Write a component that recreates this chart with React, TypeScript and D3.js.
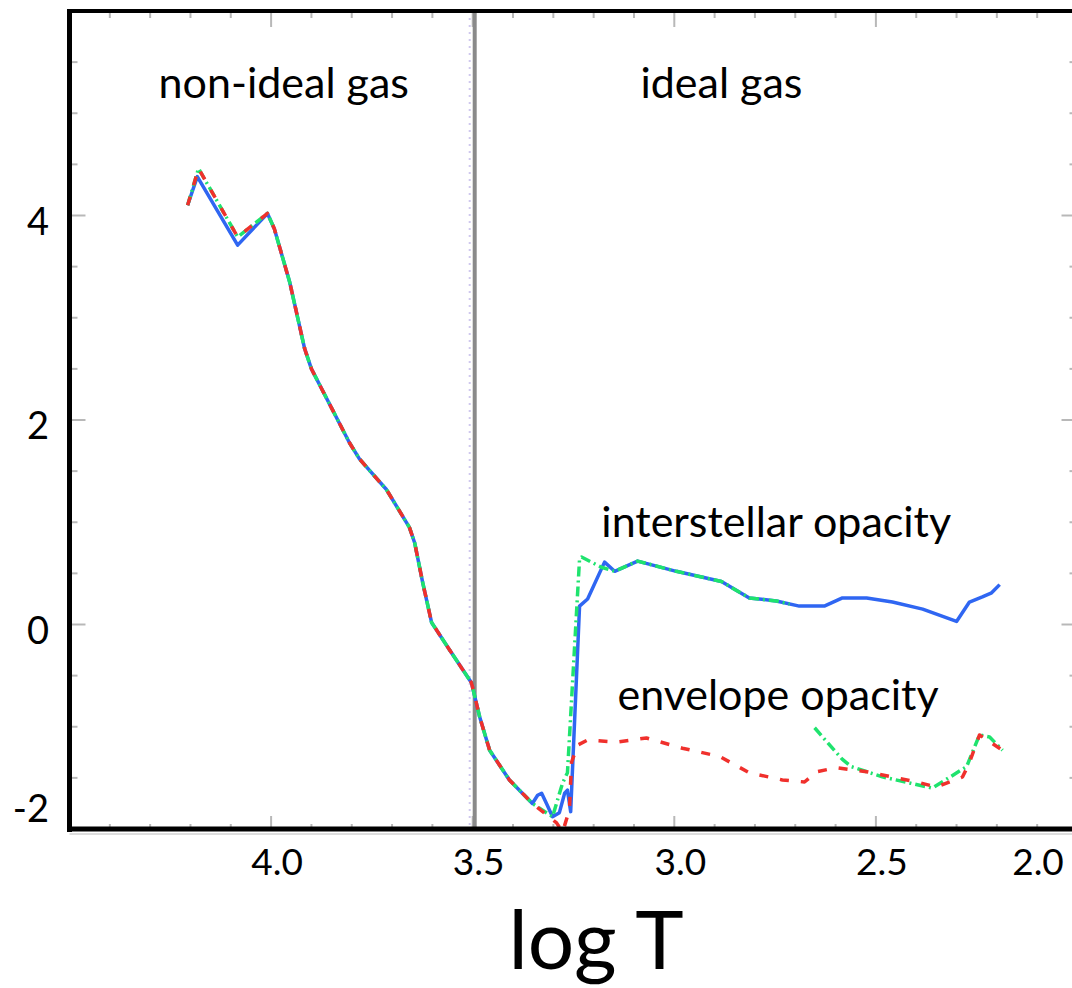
import React from 'react';
import * as d3 from 'd3';

const W = 1072;
const H = 988;

// log T / log kappa
// part shared by all three curves
const commonT = [4.009, 3.992, 3.954, 3.917, 3.9, 3.806, 3.781, 3.714, 3.657, 3.644, 3.624, 3.602, 3.558, 3.503, 3.483, 3.458, 3.409, 3.352];
const commonK = [4.02, 3.87, 3.35, 2.7, 2.5, 1.78, 1.62, 1.32, 0.95, 0.8, 0.41, 0.02, -0.245, -0.57, -0.9, -1.23, -1.52, -1.75];

// interstellar opacity (blue, solid)
const blueHeadT = [4.207, 4.183, 4.083];
const blueHeadK = [4.1, 4.38, 3.71];
const blueTailT = [3.339, 3.329, 3.317, 3.302, 3.285, 3.272, 3.265, 3.257, 3.235, 3.215, 3.173, 3.148, 3.091, 2.995, 2.883, 2.814, 2.747, 2.69, 2.628, 2.583, 2.523, 2.459, 2.384, 2.3, 2.268, 2.236, 2.213, 2.193];
const blueTailK = [-1.67, -1.65, -1.75, -1.88, -1.84, -1.65, -1.62, -1.83, 0.18, 0.25, 0.61, 0.52, 0.62, 0.52, 0.42, 0.26, 0.23, 0.18, 0.18, 0.26, 0.26, 0.22, 0.15, 0.03, 0.22, 0.27, 0.31, 0.39];

// envelope opacity (red, dashed) and the mixed curve (green, dash-dot)
const headT = [4.207, 4.18, 4.083];
const headK = [4.1, 4.46, 3.79];
const redTailT = [3.292, 3.277, 3.26, 3.255, 3.24, 3.215, 3.143, 3.069, 2.98, 2.888, 2.814, 2.732, 2.677, 2.647, 2.598, 2.523, 2.399, 2.35, 2.285, 2.268, 2.243, 2.186];
const redTailK = [-1.94, -2.03, -1.81, -1.35, -1.18, -1.13, -1.15, -1.11, -1.21, -1.29, -1.45, -1.52, -1.54, -1.44, -1.4, -1.44, -1.54, -1.59, -1.49, -1.35, -1.08, -1.23];
const greenTailT = [3.302, 3.277, 3.265, 3.235, 3.23, 3.181, 3.148, 3.091, 2.995, 2.883, 2.814, 2.747, 2.714, NaN, 2.652, 2.583, 2.561, 2.484, 2.36, 2.275, 2.243, 2.218, 2.186];
const greenTailK = [-1.88, -1.55, -1.45, 0.64, 0.66, 0.56, 0.52, 0.62, 0.52, 0.42, 0.26, 0.23, 0.2, NaN, -1.01, -1.32, -1.39, -1.49, -1.6, -1.39, -1.08, -1.1, -1.23];

const xTickLabels = ['4.0', '3.5', '3.0', '2.5', '2.0'];
const yTickLabels = ['4', '2', '0', '-2'];
const boundaryT = 3.5;

const notes = [
  { text: 'non-ideal gas', t: 4.279, k: 5.15 },
  { text: 'ideal gas', t: 3.084, k: 5.15 },
  { text: 'interstellar opacity', t: 3.181, k: 0.853 },
  { text: 'envelope opacity', t: 3.141, k: -0.833 },
];

const zip = (ts: number[], ks: number[]) => ts.map((t, i) => [t, ks[i]] as [number, number]);

const App = () => {
  const x = d3.scaleLinear().domain([4.5, 2.0]).range([69.5, 1077.5]);
  const y = d3.scaleLinear().domain([-2, 6]).range([829, 11]);

  const line = d3.line<[number, number]>()
    .defined(d => !isNaN(d[0]) && !isNaN(d[1]))
    .x(d => x(d[0]))
    .y(d => y(d[1]));

  const blue = zip([...blueHeadT, ...commonT, ...blueTailT], [...blueHeadK, ...commonK, ...blueTailK]);
  const red = zip([...headT, ...commonT, ...redTailT], [...headK, ...commonK, ...redTailK]);
  const green = zip([...headT, ...commonT, ...greenTailT], [...headK, ...commonK, ...greenTailK]);

  const xTicks = d3.range(20, 46).map(i => i / 10);
  const yTicks = d3.range(-4, 13).map(i => i / 2);
  const font = 'Lato, "Open Sans", sans-serif';

  return (
    <svg width={W} height={H} style={{ position: 'absolute', left: 0, top: 0, background: '#fff' }}>
      <defs>
        <clipPath id="plot">
          <rect x={x(4.5)} y={y(6)} width={x(2.0) - x(4.5)} height={y(-2) - y(6) + 4} />
        </clipPath>
      </defs>

      {/* light tick marks, all four sides */}
      <g stroke="#b8b8b8" strokeWidth={2}>
        {xTicks.map(v => {
          const major = Math.abs(v * 2 - Math.round(v * 2)) < 1e-6;
          return (
            <g key={'x' + v}>
              <line x1={x(v)} x2={x(v)} y1={y(-2)} y2={y(-2) - (major ? 13 : 5)} />
              <line x1={x(v)} x2={x(v)} y1={y(6)} y2={y(6) + (major ? 16 : 7)} />
            </g>
          );
        })}
        {yTicks.map(v => {
          const major = Math.abs(v / 2 - Math.round(v / 2)) < 1e-6;
          return (
            <g key={'y' + v}>
              <line x1={x(4.5)} x2={x(4.5) + (major ? 16 : 8)} y1={y(v)} y2={y(v)} />
              <line x1={x(2.0)} x2={x(2.0) - (major ? 16 : 8)} y1={y(v)} y2={y(v)} />
            </g>
          );
        })}
      </g>
      <line x1={x(4.5)} x2={x(2.0)} y1={y(-2) + 5} y2={y(-2) + 5} stroke="#ddd" strokeWidth={2} />

      {/* gas regime boundary */}
      <line x1={x(boundaryT) - 3} x2={x(boundaryT) - 3} y1={y(6)} y2={y(-2)} stroke="#cfc8ee" strokeWidth={2} strokeDasharray="2,5" />
      <line x1={x(boundaryT) + 2} x2={x(boundaryT) + 2} y1={y(6)} y2={y(-2)} stroke="#8a8a8a" strokeWidth={4} />

      <g clipPath="url(#plot)" fill="none" strokeLinejoin="round">
        <path d={line(blue) ?? ''} stroke="#2f66f2" strokeWidth={3.5} />
        <path d={line(green) ?? ''} stroke="#1fe36e" strokeWidth={3.5} strokeDasharray="10,4,2,4" />
        <path d={line(red) ?? ''} stroke="#f0302c" strokeWidth={3.5} strokeDasharray="9,12" />
      </g>

      {/* frame */}
      <line x1={x(4.5)} x2={x(4.5)} y1={y(6) - 2} y2={y(-2) + 3} stroke="#000" strokeWidth={5} />
      <line x1={x(4.5) - 2} x2={W} y1={y(6)} y2={y(6)} stroke="#000" strokeWidth={4} />
      <line x1={x(4.5) - 2} x2={W} y1={y(-2)} y2={y(-2)} stroke="#000" strokeWidth={5} />
      <line x1={x(2.0)} x2={x(2.0)} y1={y(6)} y2={y(-2)} stroke="#000" strokeWidth={5} />

      <g fontFamily={font} fill="#000">
        {notes.map(n => (
          <text key={n.text} x={x(n.t)} y={y(n.k)} fontSize={43}>{n.text}</text>
        ))}
        {xTickLabels.map(s => (
          <text key={s} x={Math.min(x(+s) + 6, W - 34)} y={y(-2) + 46} fontSize={37} textAnchor="middle">{s}</text>
        ))}
        {yTickLabels.map(s => (
          <text key={s} x={49} y={Math.min(y(+s) + 6, y(-2) - 20)} dy="0.35em" fontSize={38} textAnchor="end">{s}</text>
        ))}
        <text x={596} y={969} fontSize={82} textAnchor="middle">log T</text>
      </g>
    </svg>
  );
};

export default App;
